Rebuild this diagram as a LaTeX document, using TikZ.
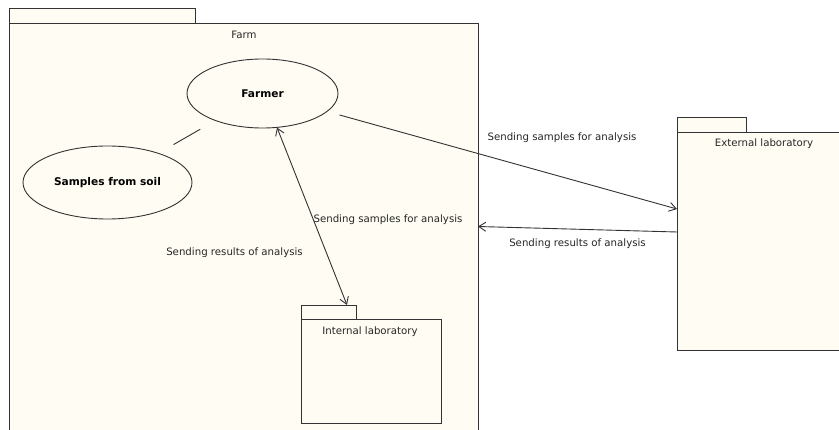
\documentclass[tikz,border=0pt]{standalone}
\usepackage{fontspec}
\setmainfont{DejaVu Sans}
\usetikzlibrary{shapes.geometric,arrows.meta}
\definecolor{pkgfill}{HTML}{FFFCF3}
\definecolor{edge}{HTML}{333333}
\tikzset{
  pkg/.style={draw=edge, fill=pkgfill, line width=1pt, inner sep=0pt, anchor=north west},
  usecase/.style={ellipse, draw=edge, fill=pkgfill, line width=0.9pt, inner sep=0pt,
    font=\fontsize{10.6}{12}\selectfont\bfseries},
  txt/.style={font=\fontsize{10.2}{12}\selectfont, text=black!85, inner sep=0pt},
  link/.style={draw=edge, line width=0.9pt},
  flow/.style={link, -{Straight Barb[length=7pt,width=9pt]}},
  bothflow/.style={link, {Straight Barb[length=7pt,width=9pt]}-{Straight Barb[length=7pt,width=9pt]}}
}
\begin{document}
\begin{tikzpicture}[x=1pt,y=-1pt]
\useasboundingbox[fill=white] (0,0) rectangle (839,430);
% Farm package
\node[pkg, minimum width=186, minimum height=15] (farmtab) at (9,8) {};
\node[pkg, minimum width=469, minimum height=430] (farm) at (9,23) {};
\node[txt] (farmname) at (244,35) {Farm};
% External laboratory package
\node[pkg, minimum width=69, minimum height=15] (exttab) at (677,117) {};
\node[pkg, minimum width=175, minimum height=218] (extlab) at (677,132) {};
\node[txt] (extname) at (764,144) {External laboratory};
% Internal laboratory package
\node[pkg, minimum width=55, minimum height=14] (inttab) at (301,305) {};
\node[pkg, minimum width=140, minimum height=104] (intlab) at (301,319) {};
\node[txt] (intname) at (370,332) {Internal laboratory};
% Use cases
\node[usecase, minimum width=151, minimum height=69] (farmer) at (262.5,93.5) {Farmer};
\node[usecase, minimum width=169, minimum height=73] (samples) at (107.5,182.5) {Samples from soil};
% Connector end points on package borders
\coordinate (extin) at (677,209);
\coordinate (extout) at (677,232);
\coordinate (farmin) at (478,226.5);
\coordinate (farmbot) at (277,127.5);
\coordinate (inttop) at (347,305);
% Connectors
\draw[link, shorten <=17pt, shorten >=17pt] (samples) -- (farmer);
\draw[flow, shorten <=12.5pt] (farmer) -- (extin);
\draw[flow] (extout) -- (farmin);
\draw[bothflow] (farmbot) -- (inttop);
% Connector labels
\node[txt] (lbl1) at (562,138) {Sending samples for analysis};
\node[txt] (lbl2) at (577.5,244) {Sending results of analysis};
\node[txt] (lbl3) at (388,220) {Sending samples for analysis};
\node[txt] (lbl4) at (234.5,253) {Sending results of analysis};
\end{tikzpicture}
\end{document}
